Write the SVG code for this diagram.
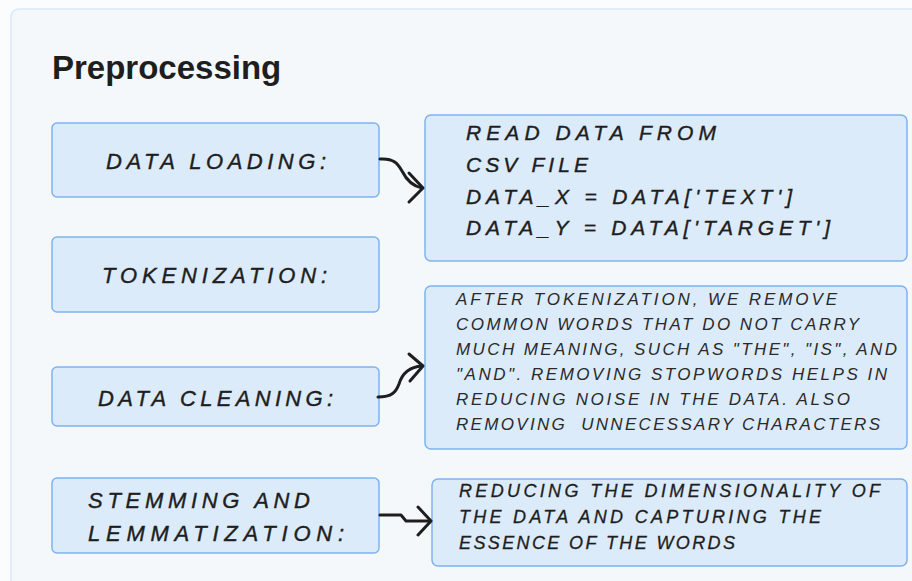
<svg xmlns="http://www.w3.org/2000/svg" width="912" height="581" viewBox="0 0 912 581">
<style>
.panel{fill:#f4f8fb;stroke:#d9e8f7;stroke-width:1.5}
.box{fill:#dcebfa;stroke:#7db3ef;stroke-width:1.5}
.title{font-family:"Liberation Sans",Arial,sans-serif;font-weight:bold;font-size:33px;fill:#1e1e1e}
.lbl{font-family:"Liberation Sans",Arial,sans-serif;font-style:italic;font-size:22px;fill:#1e1e1e;stroke:#1e1e1e;stroke-width:0.4}
.t1{font-family:"Liberation Sans",Arial,sans-serif;font-style:italic;font-size:21px;fill:#1e1e1e;stroke:#1e1e1e;stroke-width:0.4}
.t2{font-family:"Liberation Sans",Arial,sans-serif;font-style:italic;font-size:17px;fill:#2a2a2a;white-space:pre}
.t3{font-family:"Liberation Sans",Arial,sans-serif;font-style:italic;font-size:18px;fill:#1e1e1e;stroke:#1e1e1e;stroke-width:0.3}
.conn{fill:none;stroke:#1e1e1e;stroke-width:3;stroke-linecap:round;stroke-linejoin:round}
</style>
<rect width="912" height="581" fill="#fbfcfd"/>
<rect class="panel" x="11" y="9" width="920" height="600" rx="8"/>
<text class="title" x="52" y="79">Preprocessing</text>

<g id="data-loading">
<rect class="box" x="52" y="123" width="327" height="74" rx="5"/>
<text class="lbl" x="106" y="169" textLength="220" lengthAdjust="spacing">DATA LOADING:</text>
</g>
<g id="tokenization">
<rect class="box" x="52" y="237" width="327" height="75" rx="5"/>
<text class="lbl" x="102" y="283" textLength="225" lengthAdjust="spacing">TOKENIZATION:</text>
</g>
<g id="data-cleaning">
<rect class="box" x="52" y="367" width="327" height="59" rx="5"/>
<text class="lbl" x="98" y="406" textLength="235" lengthAdjust="spacing">DATA CLEANING:</text>
</g>
<g id="stemming">
<rect class="box" x="52" y="478" width="327" height="75" rx="5"/>
<text class="lbl" x="88" y="508" textLength="222" lengthAdjust="spacing">STEMMING AND</text>
<text class="lbl" x="88" y="541" textLength="256" lengthAdjust="spacing">LEMMATIZATION:</text>
</g>

<g id="loading-detail">
<rect class="box" x="425" y="115" width="482" height="146" rx="6"/>
<text class="t1" x="466" y="140" textLength="250" lengthAdjust="spacing">READ DATA FROM</text>
<text class="t1" x="466" y="172" textLength="122" lengthAdjust="spacing">CSV FILE</text>
<text class="t1" x="466" y="204" textLength="326" lengthAdjust="spacing">DATA_X = DATA['TEXT']</text>
<text class="t1" x="466" y="235" textLength="364" lengthAdjust="spacing">DATA_Y = DATA['TARGET']</text>
</g>
<g id="cleaning-detail">
<rect class="box" x="425" y="286" width="482" height="163" rx="6"/>
<text class="t2" x="456" y="305" textLength="381" lengthAdjust="spacing">AFTER TOKENIZATION, WE REMOVE</text>
<text class="t2" x="456" y="330" textLength="403" lengthAdjust="spacing">COMMON WORDS THAT DO NOT CARRY</text>
<text class="t2" x="456" y="355" textLength="441" lengthAdjust="spacing">MUCH MEANING, SUCH AS "THE", "IS", AND</text>
<text class="t2" x="456" y="380" textLength="431" lengthAdjust="spacing">"AND". REMOVING STOPWORDS HELPS IN</text>
<text class="t2" x="456" y="405" textLength="394" lengthAdjust="spacing">REDUCING NOISE IN THE DATA. ALSO</text>
<text class="t2" x="456" y="430" textLength="424" lengthAdjust="spacing" xml:space="preserve">REMOVING  UNNECESSARY CHARACTERS</text>
</g>
<g id="stemming-detail">
<rect class="box" x="432" y="479" width="475" height="87" rx="6"/>
<text class="t3" x="459" y="497" textLength="421" lengthAdjust="spacing">REDUCING THE DIMENSIONALITY OF</text>
<text class="t3" x="459" y="523" textLength="362" lengthAdjust="spacing">THE DATA AND CAPTURING THE</text>
<text class="t3" x="459" y="549" textLength="276" lengthAdjust="spacing">ESSENCE OF THE WORDS</text>
</g>

<g id="connectors">
<path class="conn" d="M380,159 C394,158 398,164 402,171 C406,179 412,186 422,188"/>
<path class="conn" d="M409,173 L423,188 L409,202"/>
<path class="conn" d="M378,397 C392,397 396,392 399,384 C402,374 408,367 422,366"/>
<path class="conn" d="M409,354 L423,366 L410,381"/>
<path class="conn" d="M380,515 L401,515 L406,521 L430,521"/>
<path class="conn" d="M418,507 L431,521 L418,535"/>
</g>
</svg>
